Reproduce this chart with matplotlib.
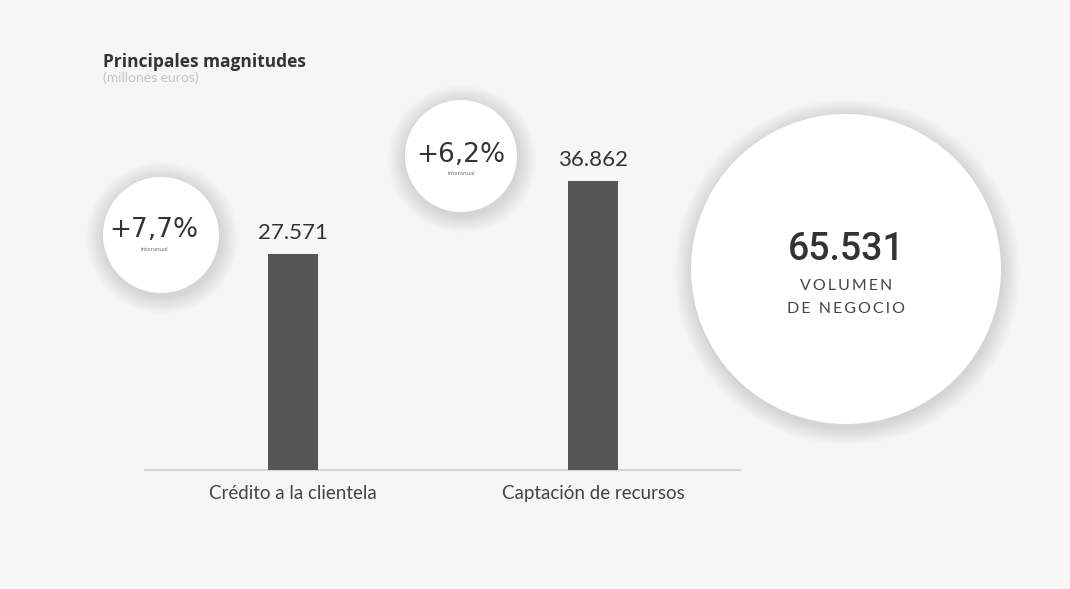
import matplotlib
matplotlib.use("Agg")
import matplotlib.pyplot as plt
from matplotlib.patches import Circle

# Data
categories = ["Crédito a la clientela", "Captación de recursos"]
values = [27571, 36862]
value_labels = ["27.571", "36.862"]
growth_labels = ["+7,7%", "+6,2%"]
total_label = "65.531"
title = "Principales magnitudes"
subtitle = "(millones euros)"

W, H = 1070, 589
fig = plt.figure(figsize=(W / 100, H / 100), dpi=100)
fig.patch.set_facecolor("#f6f6f6")

FONT = ["Lato", "DejaVu Sans"]
SPACED = "\u2009"

# Overlay axes in pixel coordinates for the circles and free text
ov = fig.add_axes([0, 0, 1, 1])
ov.set_xlim(0, W)
ov.set_ylim(H, 0)
ov.axis("off")
ov.set_zorder(0)


def bubble(ax, cx, cy, r):
    # soft shadow around a white disc
    for k in range(16, 0, -1):
        ax.add_patch(Circle((cx + 1, cy + 3), r + k * 1.1, facecolor="#a0a0a0",
                            edgecolor="none", alpha=0.022, zorder=1))
    ax.add_patch(Circle((cx, cy), r, facecolor="white", edgecolor="none", zorder=2))


bubble(ov, 161, 235, 58)
bubble(ov, 461, 156, 56)
bubble(ov, 846, 269, 155)

# Bar chart axes
L, R, B, T = 145, 740, 470, 100
ax = fig.add_axes([L / W, 1 - B / H, (R - L) / W, (B - T) / H])
ax.set_zorder(3)
ax.patch.set_alpha(0)
x = [0, 1]
ax.bar(x, values, width=0.167, color="#565656", zorder=3)
ax.set_xlim(-0.493, 1.49)
ax.set_ylim(0, 47250)
for s in ["top", "right", "left"]:
    ax.spines[s].set_visible(False)
ax.spines["bottom"].set_color("#d0d0d0")
ax.spines["bottom"].set_linewidth(1.2)
ax.set_yticks([])
ax.set_xticks(x)
ax.set_xticklabels(categories, fontsize=13.5, color="#444444", family=FONT)
ax.tick_params(axis="x", length=0, pad=11)
for xi, v, lab in zip(x, values, value_labels):
    ax.text(xi, v + 1450, lab, ha="center", va="bottom", fontsize=16,
            color="#333333", family=FONT)

# Growth bubbles text
PCT_FONT = ["DejaVu Sans"]
ov.text(154, 237, growth_labels[0], ha="center", va="baseline", fontsize=19,
        color="#333333", family=PCT_FONT, zorder=5)
ov.text(154, 251, "interanual", ha="center", va="baseline", fontsize=4.5,
        color="#777777", family=FONT, zorder=5)
ov.text(461, 162, growth_labels[1], ha="center", va="baseline", fontsize=19,
        color="#333333", family=PCT_FONT, zorder=5)
ov.text(461, 175, "interanual", ha="center", va="baseline", fontsize=4.5,
        color="#777777", family=FONT, zorder=5)

# Total bubble text
ov.text(846, 260, total_label, ha="center", va="baseline", fontsize=27,
        fontweight="medium", color="#333333", family=["Roboto", "DejaVu Sans"], zorder=5)
ov.text(846, 290, SPACED.join("VOLUMEN"), ha="center", va="baseline",
        fontsize=11.5, color="#444444", family=FONT, zorder=5)
ov.text(846, 313, SPACED.join("DE") + "  " + SPACED.join("NEGOCIO"), ha="center",
        va="baseline", fontsize=11.5, color="#444444", family=FONT, zorder=5)

# Title
ov.text(103, 67, title, ha="left", va="baseline", fontsize=12.5, fontweight="bold",
        color="#333333", family=["Open Sans", "DejaVu Sans"], zorder=5)
ov.text(103, 82, subtitle, ha="left", va="baseline", fontsize=10,
        color="#c4c4c4", family=FONT, zorder=5)

fig.savefig("out.png", dpi=100, facecolor=fig.get_facecolor())
